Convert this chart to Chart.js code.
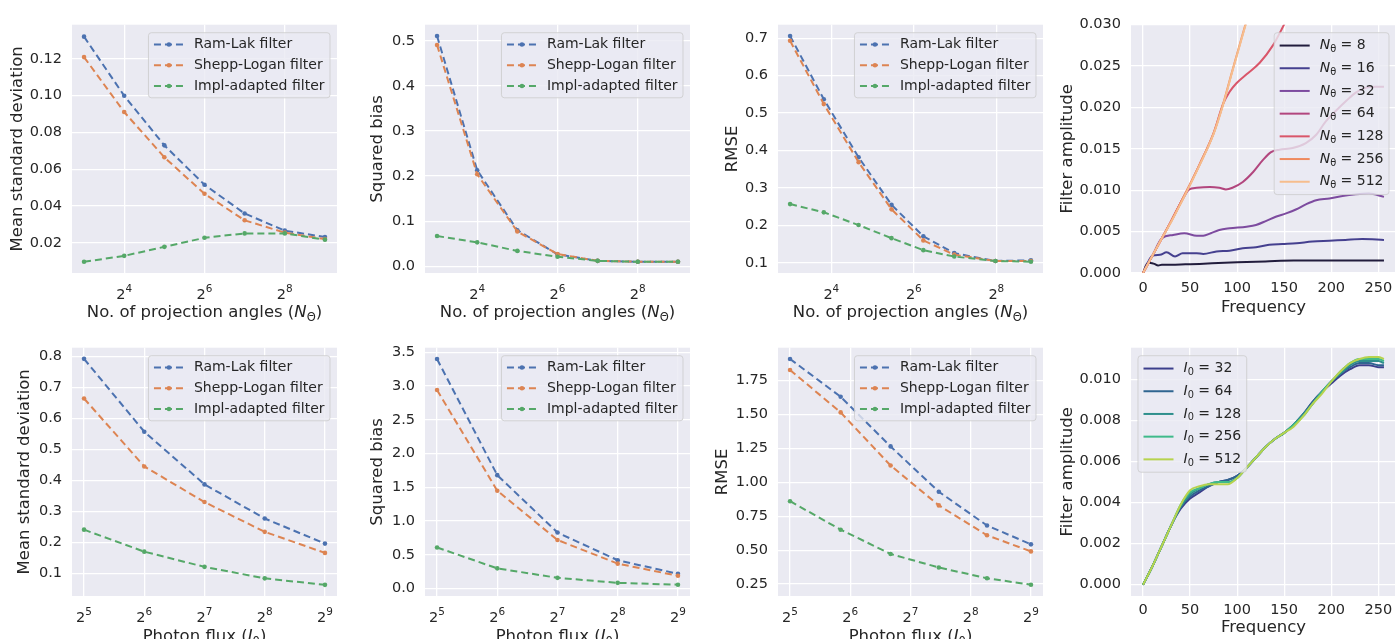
<!DOCTYPE html>
<html>
<head>
<meta charset="utf-8">
<script src="https://cdn.jsdelivr.net/npm/chart.js@4.4.0/dist/chart.umd.min.js"></script>
<style>
  html, body { margin: 0; padding: 0; background: #fff; overflow: hidden; }
  #fig { position: relative; width: 1395px; height: 639px; overflow: hidden; }
  #fig canvas { position: absolute; }
</style>
</head>
<body>
<div id="fig"></div>
<script>
// ---- x values ----
const anglesPow = [8, 16, 32, 64, 128, 256, 512];
const anglesRmse = [8, 14.1, 25.3, 44, 75.1, 126.3, 252.5, 458];
const fluxPow = [32, 64, 128, 256, 512];
const fluxRmse = [32, 57.3, 101.8, 177.3, 308.7, 512];

const methodNames = ['Ram-Lak filter', 'Shepp-Logan filter', 'Impl-adapted filter'];
const methodColors = ['#4c72b0', '#dd8452', '#55a868'];

// ---- top row: vs number of projection angles ----
const stdAngRamLak = [0.132, 0.0999, 0.073, 0.0516, 0.036, 0.0267, 0.0232];
const stdAngShepp  = [0.1209, 0.0911, 0.0665, 0.0467, 0.0323, 0.0256, 0.0221];
const stdAngImpl   = [0.0098, 0.013, 0.0179, 0.0228, 0.0252, 0.0252, 0.0218];

const biasAngRamLak = [0.511, 0.213, 0.080, 0.0265, 0.012, 0.010, 0.010];
const biasAngShepp  = [0.491, 0.204, 0.077, 0.027, 0.012, 0.010, 0.010];
const biasAngImpl   = [0.067, 0.053, 0.034, 0.021, 0.012, 0.010, 0.010];

const rmseAngRamLak = [0.706, 0.537, 0.382, 0.255, 0.171, 0.126, 0.105, 0.107];
const rmseAngShepp  = [0.693, 0.524, 0.369, 0.243, 0.160, 0.122, 0.105, 0.105];
const rmseAngImpl   = [0.257, 0.235, 0.201, 0.166, 0.134, 0.117, 0.105, 0.103];

// filter amplitude per number of angles
const angleLabels = ['N_θ = 8', 'N_θ = 16', 'N_θ = 32', 'N_θ = 64', 'N_θ = 128', 'N_θ = 256', 'N_θ = 512'];
const angleColors = ['#211c3c', '#45408f', '#7d4b9f', '#b2467e', '#d9566a', '#ef8a5e', '#f6bd8d'];
const freqN8 = [0, 5, 8, 12, 16, 20, 30, 45, 60, 80, 100, 130, 160, 200, 256];
const ampN8  = [0, 0.0012, 0.0012, 0.0011, 0.0009, 0.001, 0.001, 0.00105, 0.0011, 0.0012, 0.0013, 0.0014, 0.0015, 0.0015, 0.0015];
const freqN16 = [0, 10, 18, 25, 34, 42, 57, 64, 78, 92, 106, 120, 134, 148, 163, 180, 198, 215, 233, 256];
const ampN16  = [0, 0.0021, 0.0022, 0.0025, 0.002, 0.0024, 0.0024, 0.0023, 0.0026, 0.0027, 0.003, 0.0031, 0.0034, 0.0035, 0.0036, 0.0038, 0.0039, 0.004, 0.0041, 0.004];
const freqN32 = [0, 10, 20, 32, 44, 57, 64, 72, 81, 92, 110, 120, 131, 141, 152, 163, 173, 184, 198, 212, 226, 240, 256];
const ampN32  = [0, 0.0021, 0.0042, 0.0046, 0.0048, 0.0045, 0.0045, 0.0048, 0.0052, 0.0054, 0.0056, 0.0058, 0.0063, 0.0068, 0.0072, 0.0077, 0.0083, 0.0088, 0.009, 0.0093, 0.0095, 0.0096, 0.0092];
const freqN64 = [0, 10, 20, 30, 45, 49, 57, 71, 81, 88, 95, 106, 117, 127, 136, 145, 159, 173, 184, 194, 205, 216, 226, 237, 247, 256];
const ampN64  = [0, 0.0021, 0.0042, 0.0063, 0.0095, 0.0101, 0.0103, 0.0104, 0.0103, 0.0101, 0.0103, 0.011, 0.0122, 0.0136, 0.0146, 0.0149, 0.0151, 0.0157, 0.0167, 0.0183, 0.0196, 0.0208, 0.0218, 0.0224, 0.0225, 0.0225];
const freqN128 = [0, 10, 20, 30, 45, 60, 75, 85, 92, 99, 110, 124, 138, 148, 155];
const ampN128  = [0, 0.0021, 0.0042, 0.0063, 0.0096, 0.0131, 0.0169, 0.0204, 0.0219, 0.0229, 0.024, 0.0254, 0.0275, 0.0296, 0.0312];
const freqN256 = [0, 10, 20, 30, 45, 60, 75, 85, 95, 110, 120];
const ampN256  = [0, 0.0021, 0.0042, 0.0063, 0.0096, 0.0131, 0.0169, 0.0204, 0.0245, 0.0305, 0.0345];
const freqN512 = [0, 10, 20, 30, 45, 60, 75, 85, 95, 110, 120];
const ampN512  = [0, 0.0021, 0.0042, 0.0062, 0.0095, 0.013, 0.0168, 0.0203, 0.0244, 0.0304, 0.0343];

// ---- bottom row: vs photon flux ----
const stdFluxRamLak = [0.792, 0.557, 0.387, 0.277, 0.196];
const stdFluxShepp  = [0.664, 0.445, 0.330, 0.234, 0.166];
const stdFluxImpl   = [0.241, 0.170, 0.121, 0.084, 0.063];

const biasFluxRamLak = [3.40, 1.68, 0.83, 0.42, 0.22];
const biasFluxShepp  = [2.94, 1.45, 0.72, 0.37, 0.19];
const biasFluxImpl   = [0.61, 0.30, 0.16, 0.086, 0.058];

const rmseFluxRamLak = [1.910, 1.631, 1.265, 0.931, 0.682, 0.543];
const rmseFluxShepp  = [1.829, 1.516, 1.124, 0.830, 0.610, 0.491];
const rmseFluxImpl   = [0.861, 0.651, 0.472, 0.372, 0.293, 0.245];

// filter amplitude per photon flux
const fluxLabels = ['I_0 = 32', 'I_0 = 64', 'I_0 = 128', 'I_0 = 256', 'I_0 = 512'];
const fluxColors = ['#3c3f8c', '#2f6590', '#2e8f8c', '#3fba8a', '#b7d34e'];
const freqFlux = [0, 10, 20, 30, 40, 50, 60, 70, 80, 90, 100, 110, 120, 130, 140, 150, 160, 170, 180, 190, 200, 210, 220, 230, 240, 250, 256];
const ampI32  = [0, 0.0009, 0.0019, 0.0029, 0.0037, 0.0042, 0.0045, 0.0048, 0.0050, 0.0051, 0.0053, 0.0057, 0.0062, 0.0067, 0.0071, 0.0074, 0.0078, 0.0083, 0.0089, 0.0094, 0.0098, 0.0102, 0.0105, 0.0107, 0.0107, 0.0106, 0.0106];
const ampI64  = [0, 0.0009, 0.0019, 0.0029, 0.0038, 0.0043, 0.0046, 0.0048, 0.0050, 0.0051, 0.0053, 0.0057, 0.0062, 0.0067, 0.0071, 0.0074, 0.0078, 0.0083, 0.0089, 0.0094, 0.0099, 0.0103, 0.0106, 0.0108, 0.0108, 0.0107, 0.0107];
const ampI128 = [0, 0.0009, 0.0019, 0.0029, 0.0038, 0.0044, 0.0047, 0.0049, 0.0050, 0.0050, 0.0052, 0.0057, 0.0062, 0.0067, 0.0071, 0.0074, 0.0078, 0.0083, 0.0088, 0.0094, 0.0099, 0.0103, 0.0107, 0.0109, 0.0109, 0.0109, 0.0108];
const ampI256 = [0, 0.0009, 0.0019, 0.0029, 0.0039, 0.0045, 0.0047, 0.0049, 0.0050, 0.0050, 0.0052, 0.0057, 0.0062, 0.0067, 0.0071, 0.0074, 0.0078, 0.0082, 0.0088, 0.0094, 0.0099, 0.0104, 0.0108, 0.0110, 0.0110, 0.0110, 0.0109];
const ampI512 = [0, 0.0009, 0.0019, 0.0029, 0.0039, 0.0046, 0.0048, 0.0049, 0.0049, 0.0049, 0.0052, 0.0057, 0.0062, 0.0067, 0.0071, 0.0074, 0.0077, 0.0082, 0.0088, 0.0093, 0.0099, 0.0104, 0.0108, 0.0110, 0.0111, 0.0111, 0.0110];

// ---- tick labels ----
const ticksPow2Angles = [16, 64, 256];
const ticksPow2Flux = [32, 64, 128, 256, 512];
const ticksFreq = [0, 50, 100, 150, 200, 250];
const yTicksStdAng  = ['0.02', '0.04', '0.06', '0.08', '0.10', '0.12'];
const yTicksBiasAng = ['0.0', '0.1', '0.2', '0.3', '0.4', '0.5'];
const yTicksRmseAng = ['0.1', '0.2', '0.3', '0.4', '0.5', '0.6', '0.7'];
const yTicksFiltAng = ['0.000', '0.005', '0.010', '0.015', '0.020', '0.025', '0.030'];
const yTicksStdFlux  = ['0.1', '0.2', '0.3', '0.4', '0.5', '0.6', '0.7', '0.8'];
const yTicksBiasFlux = ['0.0', '0.5', '1.0', '1.5', '2.0', '2.5', '3.0', '3.5'];
const yTicksRmseFlux = ['0.25', '0.50', '0.75', '1.00', '1.25', '1.50', '1.75'];
const yTicksFiltFlux = ['0.000', '0.002', '0.004', '0.006', '0.008', '0.010'];

// ---- styling ----
const FONT = 'DejaVu Sans';
const INK = '#262626';
const AXES_BG = '#eaeaf2';
const LABEL_SIZE = 16.5, TICK_SIZE = 14.5, LEGEND_SIZE = 14;
const colLeft = [72, 425, 778, 1131];
const rowTop = [16, 339];
const AREA_W = 265, AREA_H = 257, PAD_T = 10, PAD_R = 6, X_H = 52;

Chart.defaults.font.family = FONT;
Chart.defaults.color = INK;

// text like "Photon flux (I_0)": letter before _ in italic, char after _ as subscript
function drawRich(ctx, str, x, y, size, align, draw) {
  const m = str.match(/^(.*?)([A-Za-z])_(\S)(.*)$/);
  const parts = m ? [[m[1], ''], [m[2], 'i'], [m[3], 's'], [m[4], '']] : [[str, '']];
  const fontOf = k => k === 's' ? `${size * 0.7}px "${FONT}"` : (k === 'i' ? `italic ${size}px "${FONT}"` : `${size}px "${FONT}"`);
  let total = 0;
  parts.forEach(p => { ctx.font = fontOf(p[1]); p.w = ctx.measureText(p[0]).width; total += p.w; });
  if (!draw) return total;
  let cx = align === 'center' ? x - total / 2 : x;
  ctx.textAlign = 'left';
  ctx.textBaseline = 'middle';
  parts.forEach(p => {
    ctx.font = fontOf(p[1]);
    ctx.fillText(p[0], cx, p[1] === 's' ? y + size * 0.28 : y);
    cx += p.w;
  });
  return total;
}

const axesBg = {
  id: 'axesBg',
  beforeDraw(chart) {
    const { ctx, chartArea: a } = chart;
    ctx.save();
    ctx.fillStyle = AXES_BG;
    ctx.fillRect(a.left, a.top, a.right - a.left, a.bottom - a.top);
    ctx.restore();
  }
};

// power-of-two tick labels (2 with a raised exponent) at the x scale's own tick positions
const powTicks = {
  id: 'powTicks',
  afterDraw(chart, args, o) {
    if (!o.on) return;
    const { ctx, chartArea: a } = chart;
    const s = chart.scales.x;
    const baseFont = `${TICK_SIZE}px "${FONT}"`, expFont = `${TICK_SIZE * 0.72}px "${FONT}"`;
    ctx.save();
    ctx.fillStyle = INK;
    ctx.textAlign = 'left';
    ctx.textBaseline = 'alphabetic';
    s.ticks.forEach(t => {
      const e = String(Math.round(Math.log2(t.value)));
      ctx.font = baseFont; const wb = ctx.measureText('2').width;
      ctx.font = expFont; const we = ctx.measureText(e).width;
      const x0 = s.getPixelForValue(t.value) - (wb + we) / 2;
      const base = a.bottom + 26;
      ctx.font = baseFont; ctx.fillText('2', x0, base);
      ctx.font = expFont; ctx.fillText(e, x0 + wb, base - 7.5);
    });
    ctx.restore();
  }
};

const xTitle = {
  id: 'xTitle',
  afterDraw(chart, args, o) {
    const { ctx, chartArea: a } = chart;
    ctx.save();
    ctx.fillStyle = INK;
    drawRich(ctx, o.text, (a.left + a.right) / 2, a.bottom + o.offset, LABEL_SIZE, 'center', true);
    ctx.restore();
  }
};

const boxLegend = {
  id: 'boxLegend',
  afterDatasetsDraw(chart, args, o) {
    const { ctx, chartArea: a } = chart;
    const sets = chart.data.datasets;
    const pad = 5.5, handle = 30, gap = 10;
    ctx.save();
    let tw = 0;
    sets.forEach(ds => { tw = Math.max(tw, drawRich(ctx, ds.label, 0, 0, LEGEND_SIZE, 'left', false)); });
    const w = pad * 2 + handle + gap + tw;
    const h = o.rowH * sets.length + 3;
    const x = o.corner === 'tl' ? a.left + 7 : a.right - 7 - w;
    const y = a.top + 8;
    ctx.beginPath();
    ctx.roundRect(x, y, w, h, 3);
    ctx.fillStyle = 'rgba(234,234,242,0.8)';
    ctx.fill();
    ctx.strokeStyle = 'rgba(204,204,204,0.8)';
    ctx.lineWidth = 1;
    ctx.stroke();
    sets.forEach((ds, i) => {
      const cy = y + 1.5 + o.rowH * (i + 0.5);
      ctx.strokeStyle = ds.borderColor;
      ctx.lineWidth = ds.borderWidth;
      ctx.setLineDash(ds.borderDash || []);
      ctx.beginPath();
      ctx.moveTo(x + pad, cy);
      ctx.lineTo(x + pad + handle, cy);
      ctx.stroke();
      ctx.setLineDash([]);
      if (ds.pointRadius > 0) {
        ctx.fillStyle = ds.borderColor;
        ctx.beginPath();
        ctx.arc(x + pad + handle / 2, cy, ds.pointRadius, 0, Math.PI * 2);
        ctx.fill();
      }
      ctx.fillStyle = INK;
      drawRich(ctx, ds.label, x + pad + handle + gap, cy, LEGEND_SIZE, 'left', true);
    });
    ctx.restore();
  }
};

Chart.register(axesBg, powTicks, xTitle, boxLegend);

function methodSets(xs, series) {
  return series.map((ys, i) => ({
    label: methodNames[i],
    data: xs.map((x, k) => ({ x, y: ys[k] })),
    borderColor: methodColors[i],
    backgroundColor: methodColors[i],
    pointBackgroundColor: methodColors[i],
    borderWidth: 2,
    borderDash: [7, 4],
    pointRadius: 2.3,
    pointBorderWidth: 0,
    pointHoverRadius: 0,
    tension: 0,
    order: -i
  }));
}

function curveSets(labels, colors, xsList, ysList) {
  return labels.map((label, i) => ({
    label,
    data: xsList[i].map((x, k) => ({ x, y: ysList[i][k] })),
    borderColor: colors[i],
    backgroundColor: colors[i],
    borderWidth: 2,
    pointRadius: 0,
    pointHoverRadius: 0,
    cubicInterpolationMode: 'monotone',
    order: -i
  }));
}

const angleTitle = 'No. of projection angles (N_Θ)';
const fluxTitle = 'Photon flux (I_0)';

const panels = [
  { col: 0, row: 0, yw: 64, xType: 'logarithmic', xMin: 6.498, xMax: 630.3, xTicks: ticksPow2Angles, xPad: 9,
    xTitle: angleTitle, xOff: 40, yMin: 0.0037, yMax: 0.1385, yTicks: yTicksStdAng, yTitle: 'Mean standard deviation',
    sets: methodSets(anglesPow, [stdAngRamLak, stdAngShepp, stdAngImpl]), legend: { corner: 'tr', rowH: 20.7 } },
  { col: 1, row: 0, yw: 57, xType: 'logarithmic', xMin: 6.498, xMax: 630.3, xTicks: ticksPow2Angles, xPad: 9,
    xTitle: angleTitle, xOff: 40, yMin: -0.015, yMax: 0.536, yTicks: yTicksBiasAng, yTitle: 'Squared bias',
    sets: methodSets(anglesPow, [biasAngRamLak, biasAngShepp, biasAngImpl]), legend: { corner: 'tr', rowH: 20.7 } },
  { col: 2, row: 0, yw: 55, xType: 'logarithmic', xMin: 6.53, xMax: 561, xTicks: ticksPow2Angles, xPad: 9,
    xTitle: angleTitle, xOff: 40, yMin: 0.073, yMax: 0.736, yTicks: yTicksRmseAng, yTitle: 'RMSE',
    sets: methodSets(anglesRmse, [rmseAngRamLak, rmseAngShepp, rmseAngImpl]), legend: { corner: 'tr', rowH: 20.7 } },
  { col: 3, row: 0, yw: 73, xType: 'linear', xMin: -12.8, xMax: 268.8, xTicks: ticksFreq, xPad: 7,
    xTitle: 'Frequency', xOff: 35, yMin: 0, yMax: 0.030, yTicks: yTicksFiltAng, yTitle: 'Filter amplitude',
    sets: curveSets(angleLabels, angleColors,
      [freqN8, freqN16, freqN32, freqN64, freqN128, freqN256, freqN512],
      [ampN8, ampN16, ampN32, ampN64, ampN128, ampN256, ampN512]),
    legend: { corner: 'tr', rowH: 22.7 } },
  { col: 0, row: 1, yw: 57, xType: 'logarithmic', xMin: 27.86, xMax: 588.1, xTicks: ticksPow2Flux, xPad: 10,
    xTitle: fluxTitle, xOff: 41, yMin: 0.027, yMax: 0.828, yTicks: yTicksStdFlux, yTitle: 'Mean standard deviation',
    sets: methodSets(fluxPow, [stdFluxRamLak, stdFluxShepp, stdFluxImpl]), legend: { corner: 'tr', rowH: 20.7 } },
  { col: 1, row: 1, yw: 57, xType: 'logarithmic', xMin: 27.86, xMax: 588.1, xTicks: ticksPow2Flux, xPad: 10,
    xTitle: fluxTitle, xOff: 41, yMin: -0.109, yMax: 3.567, yTicks: yTicksBiasFlux, yTitle: 'Squared bias',
    sets: methodSets(fluxPow, [biasFluxRamLak, biasFluxShepp, biasFluxImpl]), legend: { corner: 'tr', rowH: 20.7 } },
  { col: 2, row: 1, yw: 65, xType: 'logarithmic', xMin: 27.86, xMax: 588.1, xTicks: ticksPow2Flux, xPad: 10,
    xTitle: fluxTitle, xOff: 41, yMin: 0.162, yMax: 1.993, yTicks: yTicksRmseFlux, yTitle: 'RMSE',
    sets: methodSets(fluxRmse, [rmseFluxRamLak, rmseFluxShepp, rmseFluxImpl]), legend: { corner: 'tr', rowH: 20.7 } },
  { col: 3, row: 1, yw: 73, xType: 'linear', xMin: -12.8, xMax: 268.8, xTicks: ticksFreq, xPad: 6,
    xTitle: 'Frequency', xOff: 32, yMin: -0.00055, yMax: 0.01155, yTicks: yTicksFiltFlux, yTitle: 'Filter amplitude',
    sets: curveSets(fluxLabels, fluxColors, fluxLabels.map(() => freqFlux), [ampI32, ampI64, ampI128, ampI256, ampI512]),
    legend: { corner: 'tl', rowH: 22.7 } }
];

const fig = document.getElementById('fig');
panels.forEach(p => {
  const cv = document.createElement('canvas');
  const w = p.yw + AREA_W + PAD_R, h = PAD_T + AREA_H + X_H;
  cv.width = w; cv.height = h;
  cv.style.width = w + 'px'; cv.style.height = h + 'px';
  cv.style.left = (colLeft[p.col] - p.yw) + 'px';
  cv.style.top = (rowTop[p.row] - PAD_T) + 'px';
  fig.appendChild(cv);

  const isLog = p.xType === 'logarithmic';
  new Chart(cv.getContext('2d'), {
    type: 'line',
    data: { datasets: p.sets },
    options: {
      responsive: false,
      animation: false,
      devicePixelRatio: 1,
      events: [],
      layout: { padding: { top: PAD_T, right: PAD_R, left: 0, bottom: 0 } },
      plugins: {
        legend: { display: false },
        tooltip: { enabled: false },
        powTicks: { on: isLog },
        xTitle: { text: p.xTitle, offset: p.xOff },
        boxLegend: p.legend
      },
      scales: {
        x: {
          type: p.xType, min: p.xMin, max: p.xMax, bounds: 'data',
          afterBuildTicks: s => { s.ticks = p.xTicks.map(v => ({ value: v })); },
          afterFit: s => { s.height = X_H; },
          grid: { color: '#ffffff', lineWidth: 1.3, drawTicks: false },
          border: { display: false },
          ticks: {
            display: !isLog,
            padding: p.xPad, maxRotation: 0, autoSkip: false, font: { size: TICK_SIZE },
            callback: v => String(v)
          }
        },
        y: {
          type: 'linear', min: p.yMin, max: p.yMax, bounds: 'data',
          afterBuildTicks: s => { s.ticks = p.yTicks.map(t => ({ value: parseFloat(t) })); },
          afterFit: s => { s.width = p.yw; },
          grid: { color: '#ffffff', lineWidth: 1.3, drawTicks: false },
          border: { display: false },
          ticks: { padding: 10, font: { size: TICK_SIZE }, callback: (v, i) => p.yTicks[i] },
          title: { display: true, text: p.yTitle, font: { size: LABEL_SIZE }, padding: 0, color: INK }
        }
      }
    }
  });
});
</script>
</body>
</html>
